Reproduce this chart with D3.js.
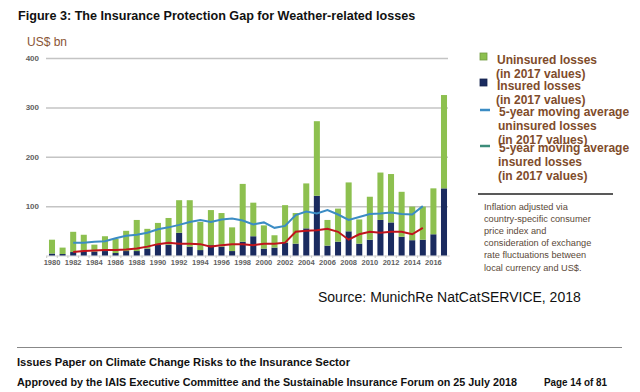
<!DOCTYPE html>
<html>
<head>
<meta charset="utf-8">
<script src="https://cdn.jsdelivr.net/npm/d3@7"></script>
<style>
  body { margin: 0; background: #fff; }
  svg { display: block; font-family: "Liberation Sans", Arial, sans-serif; }
</style>
</head>
<body>
<svg id="svg" width="640" height="392"></svg>
<script>
// values in US$ bn, 2017 values
const years = [1980, 1981, 1982, 1983, 1984, 1985, 1986, 1987, 1988, 1989,
  1990, 1991, 1992, 1993, 1994, 1995, 1996, 1997, 1998, 1999,
  2000, 2001, 2002, 2003, 2004, 2005, 2006, 2007, 2008, 2009,
  2010, 2011, 2012, 2013, 2014, 2015, 2016, 2017];
const insured = [4, 3, 7, 10, 8, 9, 5, 9, 9, 14,
  22, 22, 46, 18, 11, 21, 18, 9, 28, 39,
  14, 16, 26, 24, 55, 121, 20, 28, 49, 24,
  32, 72, 67, 38, 31, 32, 43, 136];
const uninsured = [28, 13, 41, 32, 14, 30, 29, 41, 63, 40,
  44, 54, 66, 94, 57, 71, 68, 48, 117, 68,
  47, 25, 76, 62, 91, 151, 52, 67, 99, 49,
  87, 96, 98, 91, 68, 67, 93, 189];

// 5-year moving averages (centred, 1982-2015)
const maYears = [1982, 1983, 1984, 1985, 1986, 1987, 1988, 1989, 1990, 1991,
  1992, 1993, 1994, 1995, 1996, 1997, 1998, 1999, 2000, 2001,
  2002, 2003, 2004, 2005, 2006, 2007, 2008, 2009, 2010, 2011,
  2012, 2013, 2014, 2015];
const maUninsured = [26, 26, 28, 29, 35, 40, 42, 46, 53, 57,
  62, 68, 72, 68, 73, 75, 71, 63, 67, 56,
  60, 82, 89, 85, 92, 83, 72, 78, 84, 85,
  87, 84, 83, 100];
const maInsured = [7, 9, 10, 11, 11, 12, 14, 18, 23, 26,
  24, 24, 23, 18, 21, 23, 23, 21, 24, 24,
  26, 48, 50, 51, 54, 48, 32, 43, 48, 46,
  48, 48, 43, 56];

const yTicks = [100, 200, 300, 400];
const xTickYears = [1980, 1982, 1984, 1986, 1988, 1990, 1992, 1994, 1996, 1998,
  2000, 2002, 2004, 2006, 2008, 2010, 2012, 2014, 2016];

const legendItems = [
  { kind: "box", color: "#8dc04f", lines: ["Uninsured losses", "(in 2017 values)"], y: 53 },
  { kind: "box", color: "#1a2b5f", lines: ["Insured losses", "(in 2017 values)"], y: 79 },
  { kind: "dash", color: "#3b8cc4", lines: ["5-year moving average", "uninsured losses", "(in 2017 values)"], y: 110 },
  { kind: "dash", color: "#3c8c7a", lines: ["5-year moving average", "insured losses", "(in 2017 values)"], y: 146 }
];
const noteLines = ["Inflation adjusted via", "country-specific consumer", "price index and",
  "consideration of exchange", "rate fluctuations between", "local currency and US$."];

const svg = d3.select("#svg");
const brown = "#7f4c2b";

const x = d3.scaleBand().domain(years).range([46.7, 449.3]).paddingInner(0.43).paddingOuter(0.215);
const y = d3.scaleLinear().domain([0, 400]).range([255.5, 58]);

// title
svg.append("text")
  .attr("x", 18).attr("y", 19.5)
  .style("font-size", "12.6px").style("font-weight", "bold")
  .attr("fill", "#111")
  .text("Figure 3: The Insurance Protection Gap for Weather-related losses");

svg.append("text")
  .attr("x", 27).attr("y", 45.5)
  .style("font-size", "12px")
  .attr("fill", "#8a5535")
  .text("US$ bn");

// gridlines
const grid = svg.append("g")
  .attr("transform", "translate(46,0)")
  .call(d3.axisLeft(y).tickValues(yTicks).tickSize(-402).tickFormat(""));
grid.select(".domain").remove();
grid.selectAll("line").attr("stroke", "#c4c4c4").attr("stroke-width", 1.5);

// y labels
const yAxis = svg.append("g")
  .attr("transform", "translate(46,0)")
  .call(d3.axisLeft(y).tickValues(yTicks).tickSize(0).tickPadding(7));
yAxis.select(".domain").remove();
yAxis.selectAll("text")
  .style("font-size", "8px").style("font-weight", "bold")
  .style("font-family", "'Liberation Sans', Arial, sans-serif")
  .attr("fill", "#5f5f5f");

// x axis
const xAxis = svg.append("g")
  .attr("transform", `translate(0,${y(0)})`)
  .call(d3.axisBottom(x).tickValues(xTickYears).tickSize(0).tickPadding(4));
xAxis.select(".domain").attr("stroke", "#d4d4d4");
xAxis.selectAll("text")
  .style("font-size", "7.5px").style("font-weight", "bold")
  .style("font-family", "'Liberation Sans', Arial, sans-serif")
  .attr("fill", "#5f5f5f");

// small tick marks between bars
svg.append("g").selectAll("line")
  .data(years)
  .enter().append("line")
  .attr("x1", d => x(d) - x.step() * x.paddingInner() / 2)
  .attr("x2", d => x(d) - x.step() * x.paddingInner() / 2)
  .attr("y1", y(0)).attr("y2", y(0) + 2.5)
  .attr("stroke", "#c8c8c8");

// stacked bars
const rows = years.map((yr, i) => ({ year: yr, insured: insured[i], uninsured: uninsured[i] }));
const stack = d3.stack().keys(["insured", "uninsured"])(rows);
const barColors = { insured: "#1a2b5f", uninsured: "#8dc04f" };

svg.append("g").selectAll("g")
  .data(stack)
  .enter().append("g")
  .attr("fill", d => barColors[d.key])
  .selectAll("rect")
  .data(d => d)
  .enter().append("rect")
  .attr("x", d => x(d.data.year))
  .attr("y", d => y(d[1]))
  .attr("width", x.bandwidth())
  .attr("height", d => y(d[0]) - y(d[1]));

// moving average lines
const line = d3.line()
  .x(d => x(d[0]) + x.bandwidth() / 2)
  .y(d => y(d[1]));

svg.append("path")
  .datum(maYears.map((yr, i) => [yr, maUninsured[i]]))
  .attr("fill", "none")
  .attr("stroke", "#3b8cc4")
  .attr("stroke-width", 2)
  .attr("d", line);

svg.append("path")
  .datum(maYears.map((yr, i) => [yr, maInsured[i]]))
  .attr("fill", "none")
  .attr("stroke", "#c0141c")
  .attr("stroke-width", 2)
  .attr("d", line);

// legend
const legend = svg.append("g");
legendItems.forEach(item => {
  if (item.kind === "box") {
    legend.append("rect")
      .attr("x", 480).attr("y", item.y)
      .attr("width", 7).attr("height", 7)
      .attr("fill", item.color)
      .attr("stroke", d3.color(item.color).darker(0.6))
      .attr("stroke-width", 0.8);
  } else {
    legend.append("line")
      .attr("x1", 480).attr("x2", 490)
      .attr("y1", item.y).attr("y2", item.y)
      .attr("stroke", item.color)
      .attr("stroke-width", 2.5);
  }
  const tx = item.kind === "box" ? 497 : 499;
  const baseline = item.kind === "box" ? item.y + 11 : item.y + 6;
  item.lines.forEach((t, j) => {
    legend.append("text")
      .attr("x", j === 0 ? tx : tx - 1)
      .attr("y", baseline + j * (item.kind === "box" ? 13.5 : 14))
      .style("font-size", "12px").style("font-weight", "bold")
      .attr("fill", brown)
      .text(t);
  });
});

svg.append("line")
  .attr("x1", 478).attr("x2", 613)
  .attr("y1", 194).attr("y2", 194)
  .attr("stroke", "#222").attr("stroke-width", 1.5);

svg.append("g").selectAll("text")
  .data(noteLines)
  .enter().append("text")
  .attr("x", 484)
  .attr("y", (d, i) => 210 + i * 12.1)
  .style("font-size", "9.2px")
  .attr("fill", "#5a4838")
  .text(d => d);

// source
svg.append("text")
  .attr("x", 318).attr("y", 302)
  .style("font-size", "14px")
  .attr("fill", "#111")
  .text("Source: MunichRe NatCatSERVICE, 2018");

// page footer
svg.append("line")
  .attr("x1", 17).attr("x2", 622)
  .attr("y1", 347.5).attr("y2", 347.5)
  .attr("stroke", "#888").attr("stroke-width", 1);

const footer = svg.append("g")
  .style("font-size", "11px").style("font-weight", "bold")
  .attr("fill", "#111");
footer.append("text").attr("x", 17).attr("y", 366)
  .attr("textLength", 333).attr("lengthAdjust", "spacingAndGlyphs")
  .text("Issues Paper on Climate Change Risks to the Insurance Sector");
footer.append("text").attr("x", 17).attr("y", 386)
  .attr("textLength", 500).attr("lengthAdjust", "spacingAndGlyphs")
  .text("Approved by the IAIS Executive Committee and the Sustainable Insurance Forum on 25 July 2018");
footer.append("text").attr("x", 544).attr("y", 386)
  .attr("textLength", 63).attr("lengthAdjust", "spacingAndGlyphs")
  .text("Page 14 of 81");
</script>
</body>
</html>
